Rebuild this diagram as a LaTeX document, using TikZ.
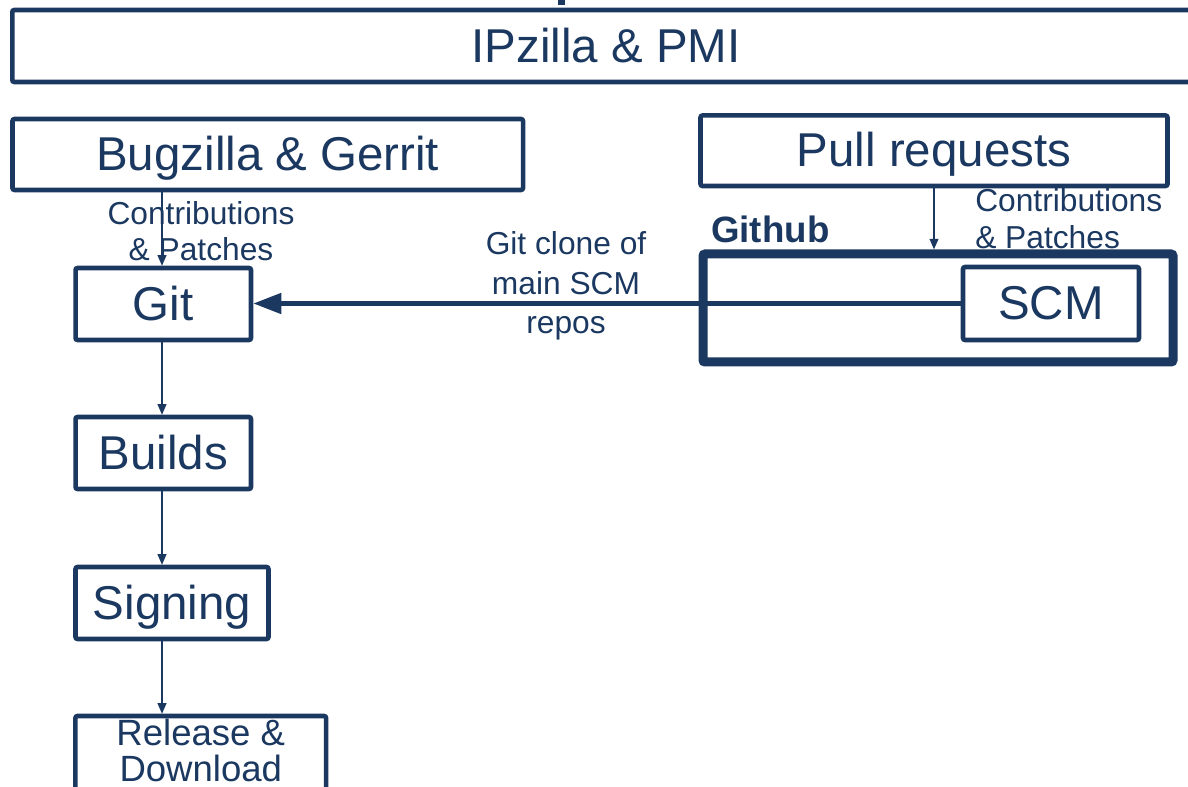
\documentclass[tikz,border=0pt]{standalone}
\usepackage{fontspec}
\setmainfont{Liberation Sans}
\usetikzlibrary{arrows.meta}
\definecolor{navy}{RGB}{27,56,96}
\begin{document}
\begin{tikzpicture}[x=0.75pt,y=-0.75pt,
  box/.style={draw=navy, line width=3.4pt, rounded corners=1.5pt, inner sep=0pt, outer sep=0pt,
    text=navy, font=\fontsize{35.6}{36}\selectfont, text height=26.7pt, text depth=2.6pt},
  lbl/.style={text=navy, font=\fontsize{23.8}{27.5}\selectfont, inner sep=0pt},
  thin/.style={draw=navy, line width=1.4pt, -{Triangle[length=8pt,width=6.5pt]}, shorten >=1.6pt}]
\useasboundingbox (0,0) rectangle (1188,787);
\fill[navy] (558,0) rectangle (565,5);
\node[box, minimum width=890.6pt, minimum height=54pt] (ipz) at (606,46) {IPzilla \& PMI};
\node[box, minimum width=382.9pt, minimum height=53.25pt] (bug) at (267.75,154.5) {Bugzilla \& Gerrit};
\node[box, minimum width=350.25pt, minimum height=52.9pt] (pull) at (934,150.75) {Pull requests};
\node[lbl, align=center] (lc) at (201,231) {Contributions\\\& Patches};
\node[lbl, align=left, anchor=west] (rc) at (975,218.5) {Contributions\\\& Patches};
\node[lbl, align=center, font=\fontsize{23.8}{29.5}\selectfont] (clone) at (566,286) {Git clone of\\main SCM\\repos};
\node[text=navy, font=\fontsize{27.5}{30}\selectfont\bfseries, anchor=base west, inner sep=0pt] (gh) at (711,243) {Github};
\node[box, line width=6.75pt, fill=white, minimum width=352.5pt, minimum height=81pt] (github) at (938,308) {};
\node[box, minimum width=132pt, minimum height=54.75pt] (scm) at (1051,303.5) {SCM};
\node[box, minimum width=131.6pt, minimum height=54pt] (git) at (163.25,304) {Git};
\node[box, minimum width=131.6pt, minimum height=54pt] (builds) at (163.25,453) {Builds};
\node[box, minimum width=144.75pt, minimum height=54pt] (sign) at (172,603) {Signing};
\node[box, minimum width=188pt, minimum height=55.5pt, align=center,
  font=\fontsize{27.4}{27}\selectfont, text height=, text depth=4.5pt] (rel) at (200.75,753) {Release \&\\Download};
\draw[thin] (bug.south -| 162,0) -- (git.north -| 162,0);
\draw[thin] (git.south -| 162,0) -- (builds.north -| 162,0);
\draw[thin] (builds.south -| 162,0) -- (sign.north -| 162,0);
\draw[thin] (sign.south -| 162,0) -- (rel.north -| 162,0);
\draw[thin, shorten >=3.4pt] (pull.south) -- (github.north -| pull.south);
\draw[draw=navy, line width=3.5pt, -{Triangle[length=21pt,width=15pt]}, shorten >=1.7pt] (scm.west) -- (scm.west -| git.east);
\end{tikzpicture}
\end{document}
